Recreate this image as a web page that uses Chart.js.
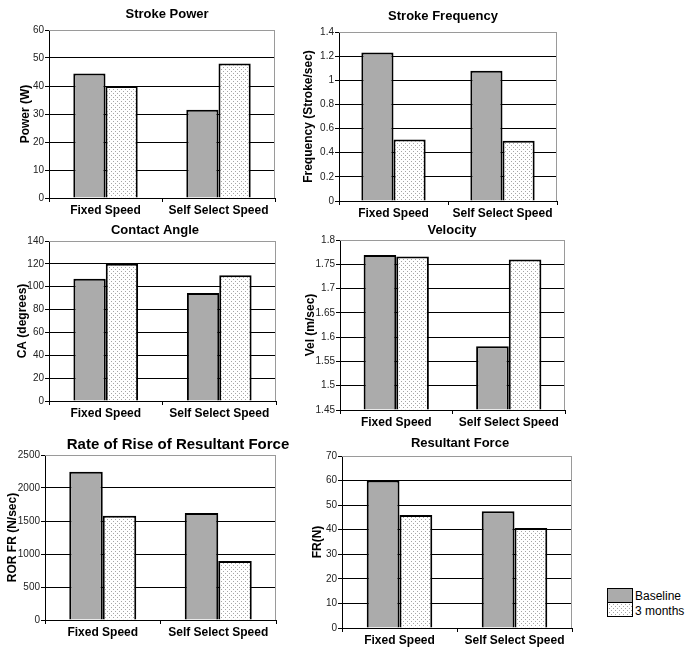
<!DOCTYPE html>
<html>
<head>
<meta charset="utf-8">
<script src="https://cdn.jsdelivr.net/npm/chart.js@4.4.0/dist/chart.umd.min.js"></script>
<style>
  body { margin: 0; background: #fff; font-family: "Liberation Sans", Arial, sans-serif; }
  #wrap { position: relative; width: 688px; height: 648px; }
  canvas { position: absolute; }
  .leg { position: absolute; left: 607px; width: 24px; height: 13px; border: 1.5px solid #000; }
  .legtxt { position: absolute; left: 635px; font-size: 12px; color: #000; }
</style>
</head>
<body>
<div id="wrap">
  <canvas id="c1" width="290" height="218" style="left:0;top:0"></canvas>
  <canvas id="c2" width="290" height="225" style="left:290px;top:0"></canvas>
  <canvas id="c3" width="290" height="210" style="left:0;top:218px"></canvas>
  <canvas id="c4" width="290" height="210" style="left:290px;top:218px"></canvas>
  <canvas id="c5" width="290" height="220" style="left:0;top:428px"></canvas>
  <canvas id="c6" width="290" height="220" style="left:290px;top:428px"></canvas>
  <div class="leg" id="legBase" style="top:588px;background:#ababab"></div>
  <div class="leg" id="legDots" style="top:603px;border-top:none"></div>
  <div class="legtxt" style="top:589px">Baseline</div>
  <div class="legtxt" style="top:604px">3 months</div>
</div>
<script>
// data
const categories = ['Fixed Speed', 'Self Select Speed'];
const seriesNames = ['Baseline', '3 months'];

const powerBase = [44.5, 31.5];
const power3m = [40, 48];
const freqBase = [1.23, 1.08];
const freq3m = [0.51, 0.50];
const angleBase = [107, 94.5];
const angle3m = [120, 110];
const velBase = [1.769, 1.581];
const vel3m = [1.766, 1.760];
const rorBase = [2245, 1620];
const ror3m = [1580, 895];
const forceBase = [60, 47.5];
const force3m = [46, 40.7];

// dotted fill for the 3 months bars
const tile = document.createElement('canvas');
tile.width = 4; tile.height = 4;
const tc = tile.getContext('2d');
tc.fillStyle = '#fff';
tc.fillRect(0, 0, 4, 4);
tc.fillStyle = '#a6a6a6';
tc.fillRect(1, 1, 1, 1);
tc.fillRect(3, 3, 1, 1);
const dots = tc.createPattern(tile, 'repeat');
document.getElementById('legDots').style.background = 'url(' + tile.toDataURL() + ')';

const panelTitle = {
  id: 'panelTitle',
  afterDraw(chart, args, opts) {
    const c = chart.ctx;
    c.save();
    c.font = 'bold ' + opts.size + 'px "Liberation Sans", Arial, sans-serif';
    c.fillStyle = '#000';
    c.textAlign = 'center';
    c.textBaseline = 'middle';
    c.fillText(opts.text, opts.x, opts.y);
    c.restore();
  }
};

const frame = {
  id: 'frame',
  beforeDatasetsDraw(chart) {
    const a = chart.chartArea, c = chart.ctx;
    c.save();
    c.strokeStyle = '#9a9a9a';
    c.lineWidth = 1;
    c.beginPath();
    c.moveTo(a.left, a.top + 0.5);
    c.lineTo(a.right - 0.5, a.top + 0.5);
    c.lineTo(a.right - 0.5, a.bottom);
    c.stroke();
    c.restore();
  }
};

function fmt(v) {
  return String(Math.round(v * 1000) / 1000);
}

function makeChart(id, cfg) {
  const ctx = document.getElementById(id).getContext('2d');
  return new Chart(ctx, {
    type: 'bar',
    data: {
      labels: categories,
      datasets: [{
        label: seriesNames[0],
        data: cfg.base,
        backgroundColor: '#ababab',
        borderColor: '#000',
        borderWidth: 2,
        base: cfg.min
      }, {
        label: seriesNames[1],
        data: cfg.later,
        backgroundColor: dots,
        borderColor: '#000',
        borderWidth: 2,
        base: cfg.min
      }]
    },
    plugins: [frame, panelTitle],
    options: {
      responsive: false,
      animation: false,
      categoryPercentage: cfg.cat,
      barPercentage: 1,
      layout: { padding: { top: cfg.top, right: cfg.right, left: 0, bottom: 0 } },
      plugins: {
        legend: { display: false },
        tooltip: { enabled: false },
        panelTitle: { text: cfg.title, x: cfg.tx, y: cfg.ty, size: cfg.tsize || 13 }
      },
      scales: {
        x: {
          afterFit(s) { s.height = cfg.xh; },
          grid: { offset: true, drawOnChartArea: false, tickLength: 4, tickColor: '#000' },
          border: { color: '#000', width: 1 },
          ticks: {
            padding: 1,
            color: '#000',
            font: { family: '"Liberation Sans", Arial, sans-serif', size: 12, weight: 'bold' }
          }
        },
        y: {
          min: cfg.min,
          max: cfg.max,
          afterFit(s) { s.width = cfg.yw; },
          grid: {
            color: c => (c.tick && Math.abs(c.tick.value - cfg.max) < 1e-9) ? '#9a9a9a' : '#000',
            tickLength: 4,
            tickColor: '#000'
          },
          border: { color: '#000', width: 1 },
          ticks: {
            stepSize: cfg.step,
            padding: 1,
            color: '#222',
            callback: fmt,
            font: { family: '"Liberation Sans", Arial, sans-serif', size: 10 }
          },
          title: {
            display: true,
            text: cfg.ylabel,
            color: '#000',
            padding: { top: cfg.ypad, bottom: 0 },
            font: { family: '"Liberation Sans", Arial, sans-serif', size: 12, weight: 'bold' }
          }
        }
      }
    }
  });
}

makeChart('c1', { base: powerBase, later: power3m, min: 0, max: 60, step: 10,
  title: 'Stroke Power', tx: 167, ty: 14, top: 30, right: 15, yw: 49, xh: 20,
  ylabel: 'Power (W)', ypad: 18, cat: 0.57 });

makeChart('c2', { base: freqBase, later: freq3m, min: 0, max: 1.4, step: 0.2,
  title: 'Stroke Frequency', tx: 153, ty: 16, top: 32, right: 23, yw: 49, xh: 24,
  ylabel: 'Frequency (Stroke/sec)', ypad: 11, cat: 0.59 });

makeChart('c3', { base: angleBase, later: angle3m, min: 0, max: 140, step: 20,
  title: 'Contact Angle', tx: 155, ty: 12, top: 23, right: 14, yw: 49, xh: 27,
  ylabel: 'CA (degrees)', ypad: 15, cat: 0.57 });

makeChart('c4', { base: velBase, later: vel3m, min: 1.45, max: 1.8, step: 0.05,
  title: 'Velocity', tx: 162, ty: 12, top: 22, right: 15, yw: 50, xh: 18,
  ylabel: 'Vel (m/sec)', ypad: 13, cat: 0.58 });

makeChart('c5', { base: rorBase, later: ror3m, min: 0, max: 2500, step: 500,
  title: 'Rate of Rise of Resultant Force', tx: 178, ty: 17, tsize: 15, top: 27, right: 14, yw: 45, xh: 28,
  ylabel: 'ROR FR (N/sec)', ypad: 5, cat: 0.58 });

makeChart('c6', { base: forceBase, later: force3m, min: 0, max: 70, step: 10,
  title: 'Resultant Force', tx: 170, ty: 15, top: 28, right: 8, yw: 52, xh: 20,
  ylabel: 'FR(N)', ypad: 20, cat: 0.57 });
</script>
</body>
</html>
